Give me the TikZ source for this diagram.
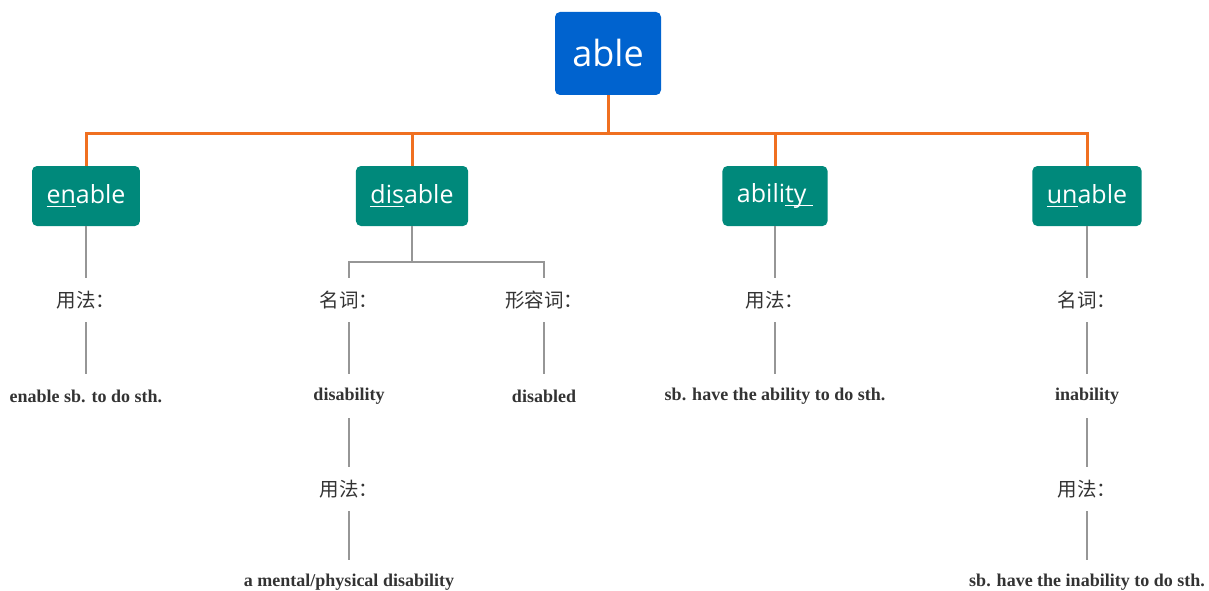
\documentclass[tikz,border=0pt]{standalone}
\usepackage{fontspec}
\setmainfont{Liberation Serif}
\newfontfamily\boxfont{Open Sans}
\newfontfamily\cjk{Noto Sans CJK SC}
\usepackage{tikz}
\usetikzlibrary{positioning}

\definecolor{rootblue}{RGB}{0,99,207}
\definecolor{wordteal}{RGB}{0,137,123}
\definecolor{busorange}{RGB}{240,112,32}
\definecolor{linegray}{RGB}{150,150,150}
\definecolor{textgray}{RGB}{51,51,51}

\newcommand{\undl}[1]{\setbox0\hbox{#1}\rlap{\rule[-4pt]{\wd0}{1.3pt}}\box0}

\begin{document}
\begin{tikzpicture}[x=1pt,y=-1pt]
					\tikzstyle{root}=[fill=rootblue,text=white,rounded corners=5pt,minimum width=106pt,minimum height=83pt,inner sep=0pt,font=\boxfont\fontsize{36}{40}\selectfont]
					\tikzstyle{word}=[fill=wordteal,text=white,rounded corners=5pt,minimum height=60pt,inner xsep=14.5pt,inner ysep=0pt,font=\boxfont\fontsize{25}{28}\selectfont]
					\tikzstyle{kind}=[text=textgray,minimum height=44pt,inner sep=0pt,font=\cjk\fontsize{19.5}{22}\selectfont]
					\tikzstyle{usage}=[text=textgray,minimum height=44pt,inner sep=0pt,font=\bfseries\fontsize{18}{20}\selectfont]
					\tikzstyle{bus}=[draw=busorange,line width=3pt]
					\tikzstyle{link}=[draw=linegray,line width=1.4pt]
					\useasboundingbox (0,0) rectangle (1209,591);
					% root and the four words
					\node[root] (0) at (608,53.5) {able};
					\node[word] (1) at (86,196) {\undl{en}able};
					\node[word] (2) at (412,196) {\undl{dis}able};
					\node[word] (3) at (775,196) {abili\undl{ty\ }};
					\node[word] (4) at (1087,196) {\undl{un}able};
					\coordinate (h) at (608,133);
					\draw[bus] (0) -- (h);
					\draw[bus] (h) -| (1);
					\draw[bus] (h) -| (2);
					\draw[bus] (h) -| (3);
					\draw[bus] (h) -| (4);
					% enable
					\node[kind] (11) at (86,300) {用法：};
					\node[usage] (12) at (86,396) {enable sb. to do sth.};
					\draw[link] (1) -- (11);
					\draw[link] (11) -- (12);
					% disable
					\coordinate (d) at (412,262);
					\node[kind] (21) at (349,300) {名词：};
					\node[kind] (22) at (544,300) {形容词：};
					\node[usage] (23) at (349,396) {disability};
					\node[usage] (24) at (544,396) {disabled};
					\node[kind] (25) at (349,489) {用法：};
					\node[usage] (26) at (349,582) {a mental/physical disability};
					\draw[link] (2) -- (d);
					\draw[link] (d) -| (21);
					\draw[link] (d) -| (22);
					\draw[link] (21) -- (23);
					\draw[link] (22) -- (24);
					\draw[link] (23) -- (25);
					\draw[link] (25) -- (26);
					% ability
					\node[kind] (31) at (775,300) {用法：};
					\node[usage] (32) at (775,396) {sb. have the ability to do sth.};
					\draw[link] (3) -- (31);
					\draw[link] (31) -- (32);
					% unable
					\node[kind] (41) at (1087,300) {名词：};
					\node[usage] (42) at (1087,396) {inability};
					\node[kind] (43) at (1087,489) {用法：};
					\node[usage] (44) at (1087,582) {sb. have the inability to do sth.};
					\draw[link] (4) -- (41);
					\draw[link] (41) -- (42);
					\draw[link] (42) -- (43);
					\draw[link] (43) -- (44);
\end{tikzpicture}
\end{document}
